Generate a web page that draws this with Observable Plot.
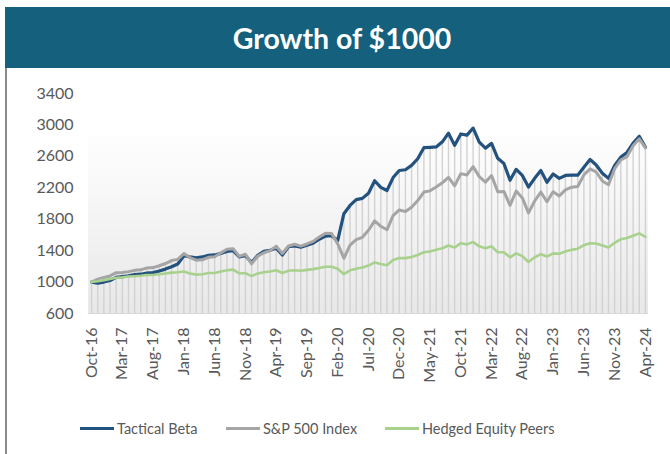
<!DOCTYPE html>
<html><head><meta charset="utf-8">
<script src="https://cdn.jsdelivr.net/npm/d3@7"></script>
<script src="https://cdn.jsdelivr.net/npm/@observablehq/plot@0.6"></script>
<style>
body{margin:0;background:#fff;font-family:Lato,"Open Sans",sans-serif;}
#wrap{position:relative;width:670px;height:454px;overflow:hidden;background:#fff;}
#head{position:absolute;left:5px;top:7px;width:665px;height:61px;background:#14607d;color:#fff;font-weight:bold;font-size:28.5px;display:flex;align-items:center;justify-content:center;box-sizing:border-box;padding-left:9px;}
#border{position:absolute;left:5px;top:68px;width:2px;height:386px;background:#8a8a8a;}
#chart{position:absolute;left:0;top:68px;}
.li{position:absolute;top:420px;display:flex;align-items:center;font-size:14.5px;color:#595959;white-space:nowrap;}
.li span.sw{display:inline-block;width:34px;height:3px;margin-right:3px;}
</style></head>
<body><div id="wrap">
<div id="head">Growth of $1000</div>
<div id="border"></div>
<div id="chart"></div>
<div class="li" style="left:80px"><span class="sw" style="background:#24527f"></span>Tactical Beta</div>
<div class="li" style="left:226px"><span class="sw" style="background:#a5a5a5"></span>S&amp;P 500 Index</div>
<div class="li" style="left:385px"><span class="sw" style="background:#a9d18e"></span>Hedged Equity Peers</div>
</div>
<script>
// Monthly values, Oct-16 .. Apr-24
const tactical = [
 1000, 985, 1000,
 1020, 1060, 1070, 1080, 1095, 1100, 1115, 1120, 1140, 1165, 1195, 1230,
 1335, 1320, 1310, 1320, 1340, 1345, 1365, 1390, 1400, 1320, 1335, 1250,
 1340, 1390, 1405, 1430, 1345, 1450, 1460, 1445, 1470, 1495, 1545, 1585,
 1590, 1530, 1870, 1975, 2050, 2065, 2130, 2290, 2205, 2165, 2330, 2420,
 2430, 2485, 2570, 2710, 2715, 2720, 2785, 2895, 2740, 2885, 2870, 2960,
 2780, 2705, 2765, 2575, 2510, 2295, 2435, 2357, 2210, 2320, 2420, 2270,
 2375, 2320, 2357, 2360, 2360, 2460, 2560, 2490, 2385, 2320, 2485, 2590,
 2650, 2770, 2855, 2715
];
const sp500 = [
 1000, 1037, 1058,
 1078, 1120, 1122, 1133, 1149, 1156, 1180, 1184, 1208, 1236, 1274, 1289,
 1362, 1312, 1279, 1284, 1315, 1323, 1372, 1417, 1425, 1327, 1354, 1232,
 1331, 1373, 1400, 1457, 1364, 1460, 1481, 1458, 1485, 1518, 1573, 1620,
 1619, 1486, 1303, 1470, 1540, 1570, 1659, 1778, 1710, 1665, 1847, 1918,
 1899, 1951, 2037, 2146, 2161, 2211, 2264, 2332, 2224, 2380, 2363, 2469,
 2342, 2272, 2356, 2150, 2154, 1977, 2159, 2071, 1880, 2032, 2146, 2022,
 2149, 2097, 2174, 2208, 2217, 2364, 2440, 2401, 2286, 2238, 2443, 2554,
 2596, 2735, 2823, 2708
];
const hedged = [
 1000, 1010, 1025,
 1040, 1055, 1060, 1070, 1075, 1080, 1090, 1090, 1100, 1110, 1120, 1125,
 1135, 1110, 1095, 1100, 1115, 1115, 1135, 1150, 1158, 1110, 1115, 1075,
 1110, 1125, 1135, 1150, 1115, 1145, 1150, 1145, 1155, 1165, 1180, 1195,
 1195, 1170, 1100, 1150, 1170, 1185, 1210, 1250, 1230, 1215, 1280, 1305,
 1305, 1320, 1345, 1380, 1390, 1410, 1430, 1465, 1440, 1495, 1480, 1510,
 1455, 1430, 1455, 1380, 1380, 1315, 1365, 1330, 1255, 1315, 1355, 1325,
 1365, 1360, 1390, 1410, 1425, 1470, 1495, 1490, 1465, 1440, 1500, 1545,
 1560, 1590, 1620, 1575
];
const xTickLabels = ["Oct-16","Mar-17","Aug-17","Jan-18","Jun-18","Nov-18","Apr-19","Sep-19","Feb-20","Jul-20","Dec-20","May-21","Oct-21","Mar-22","Aug-22","Jan-23","Jun-23","Nov-23","Apr-24"];
const yTicks = [600,1000,1400,1800,2200,2600,3000,3400];

const rows = tactical.map((t,i)=>({i, t, s:sp500[i], h:hedged[i], m:Math.max(t, sp500[i], hedged[i])}));
const xTickIdx = xTickLabels.map((_,k)=>k*5);
const last = tactical.length - 1;

const defs = () => {
  const d = d3.create("svg:defs");
  const g = d.append("linearGradient").attr("id","bg").attr("x1",0).attr("y1",0).attr("x2",0).attr("y2",1);
  g.append("stop").attr("offset","0%").attr("stop-color","#ffffff");
  g.append("stop").attr("offset","100%").attr("stop-color","#e8e8e8");
  return d.node();
};

const chart = Plot.plot({
  width:670, height:345,
  marginTop:25, marginBottom:100, marginLeft:88, marginRight:22,
  x:{domain:[-0.5, last+0.5], label:null},
  y:{domain:[600,3400], label:null},
  style:{fontFamily:"Lato, 'Open Sans', sans-serif", fontSize:"16px", color:"#595959", background:"transparent"},
  marks:[
    defs,
    Plot.rect([0],{x1:-0.5, x2:last+0.5, y1:600, y2:2950, fill:"url(#bg)"}),
    Plot.ruleX(rows,{x:"i", y1:600, y2:"m", stroke:"#d2d2d2", strokeWidth:1.4}),
    Plot.ruleY([600],{x1:-0.5, x2:last+0.5, stroke:"#d9d9d9", strokeWidth:1}),
    Plot.axisY(yTicks,{tickSize:0, tickPadding:15, fontSize:16, fill:"#595959", label:null, tickFormat:d=>String(d)}),
    Plot.axisX(xTickIdx,{tickSize:0, tickPadding:14, tickRotate:-90, fontSize:16, fill:"#595959", label:null, tickFormat:d=>xTickLabels[d/5]}),
    Plot.line(rows,{x:"i", y:"t", stroke:"#24527f", strokeWidth:3.2, strokeLinejoin:"round"}),
    Plot.line(rows,{x:"i", y:"s", stroke:"#a5a5a5", strokeWidth:3, strokeLinejoin:"round"}),
    Plot.line(rows,{x:"i", y:"h", stroke:"#a9d18e", strokeWidth:2.6, strokeLinejoin:"round"})
  ]
});
document.getElementById("chart").appendChild(chart);
</script>
</body></html>
